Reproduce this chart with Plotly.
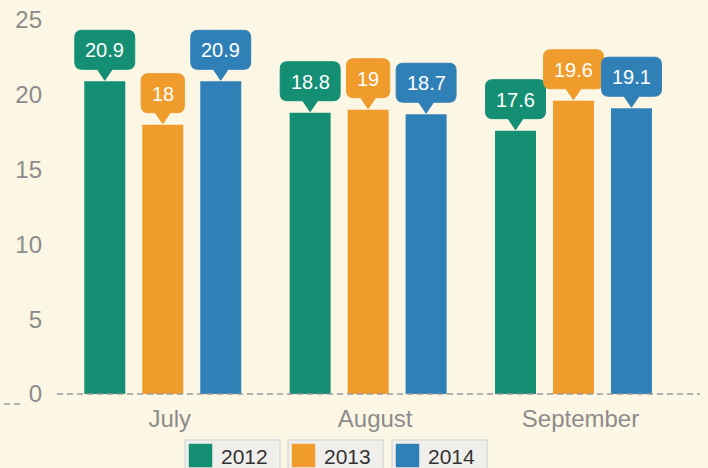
import plotly.graph_objects as go

# ---- data ----
months = ["July", "August", "September"]
years = ["2012", "2013", "2014"]
v2012 = [20.9, 18.8, 17.6]
v2013 = [18.0, 19.0, 19.6]
v2014 = [20.9, 18.7, 19.1]
y_ticks = [0, 5, 10, 15, 20, 25]

series = [v2012, v2013, v2014]
colors = ["#158f73", "#f09c2d", "#3080b8"]
BG = "#fcf6e4"
FONT = "Liberation Sans, Arial, sans-serif"

W, H = 708, 468
L, R, T, B = 57, 8, 2, 71
PW, PH = W - L - R, H - T - B

def px_x(px):
    return (px - L) / PW

def px_y(py):
    return (H - B - py) / PH

bargap = 0.153
bargroupgap = 0.293
xpos = list(range(len(months)))

fig = go.Figure()
for i, (yr, vals) in enumerate(zip(years, series)):
    fig.add_trace(go.Bar(
        x=xpos, y=vals, name=yr, marker=dict(color=colors[i], line=dict(width=0)),
        showlegend=False, hoverinfo="skip",
    ))

# callouts
slot = (1 - bargap) / len(years)

def text_width(s, size=20):
    return sum(0.278 * size if ch == "." else 0.556 * size for ch in s)

def fmt(v):
    return f"{v:g}"

shapes = []
annotations = []
for i, vals in enumerate(series):
    for j, v in enumerate(vals):
        xc = xpos[j] + (i - (len(years) - 1) / 2) * slot
        label = fmt(v)
        hw = (text_width(label) + 21) / 2
        b, t, r, pw, tip = 12, 51, 7, 7.5, 1
        path = (f"M {-hw + r},{b} L {-pw},{b} L 0,{tip} L {pw},{b} L {hw - r},{b} "
                f"Q {hw},{b} {hw},{b + r} L {hw},{t - r} Q {hw},{t} {hw - r},{t} "
                f"L {-hw + r},{t} Q {-hw},{t} {-hw},{t - r} L {-hw},{b + r} "
                f"Q {-hw},{b} {-hw + r},{b} Z")
        shapes.append(dict(
            type="path", xref="x", yref="y", xsizemode="pixel", ysizemode="pixel",
            xanchor=xc, yanchor=v, path=path, fillcolor=colors[i],
            line=dict(width=1, color=colors[i]), layer="above",
        ))
        annotations.append(dict(
            x=xc, y=v, xref="x", yref="y", text=label, showarrow=False,
            yanchor="middle", xanchor="center", yshift=31,
            font=dict(family=FONT, size=20, color="white"),
        ))

# dashed zero line
dash_style = dict(color="#9a9a9a", width=1.5, dash="6px,4px")
shapes.append(dict(type="line", xref="paper", yref="y", x0=0, x1=1, y0=0, y1=0,
                   line=dash_style, layer="above"))
shapes.append(dict(type="line", xref="paper", yref="paper", x0=px_x(4), x1=px_x(23),
                   y0=px_y(404), y1=px_y(404), line=dash_style, layer="above"))

# legend: one box per series
box_left = [185, 288, 392]
box_w = 95
for i, yr in enumerate(years):
    x0 = box_left[i]
    shapes.append(dict(type="rect", xref="paper", yref="paper",
                       x0=px_x(x0), x1=px_x(x0 + box_w), y0=px_y(476), y1=px_y(440),
                       fillcolor="#f0efec", line=dict(color="#dcdcdc", width=1.5),
                       layer="above"))
    shapes.append(dict(type="rect", xref="paper", yref="paper",
                       x0=px_x(x0 + 4), x1=px_x(x0 + 27), y0=px_y(467), y1=px_y(444),
                       fillcolor=colors[i], line=dict(color=colors[i], width=0.5),
                       layer="above"))
    annotations.append(dict(
        x=px_x(x0 + 34), y=px_y(456.5), xref="paper", yref="paper", text=yr,
        showarrow=False, xanchor="left", yanchor="middle",
        font=dict(family=FONT, size=21, color="#333333"),
    ))

fig.update_layout(
    width=W, height=H,
    margin=dict(l=L, r=R, t=T, b=B),
    paper_bgcolor=BG, plot_bgcolor=BG,
    barmode="group", bargap=bargap, bargroupgap=bargroupgap,
    shapes=shapes, annotations=annotations, showlegend=False,
    font=dict(family=FONT),
    xaxis=dict(
        range=[-0.515, 2.616], tickmode="array", tickvals=xpos, ticktext=months,
        showgrid=False, zeroline=False, showline=False, ticks="", automargin=False,
        tickfont=dict(family=FONT, size=24, color="#8c8c8c"),
        ticklabelshift=7, ticklabelstandoff=5,
    ),
    yaxis=dict(
        range=[-0.2, 26.2], tickmode="array", tickvals=y_ticks, automargin=False,
        showgrid=False, zeroline=False, showline=False, ticks="",
        tickfont=dict(family=FONT, size=24, color="#8c8c8c"),
        ticklabelstandoff=14,
    ),
)

fig.write_html(
    "out.html",
    config={"displayModeBar": False},
    post_script="document.body.style.margin='0px';document.body.style.overflow='hidden';",
)
